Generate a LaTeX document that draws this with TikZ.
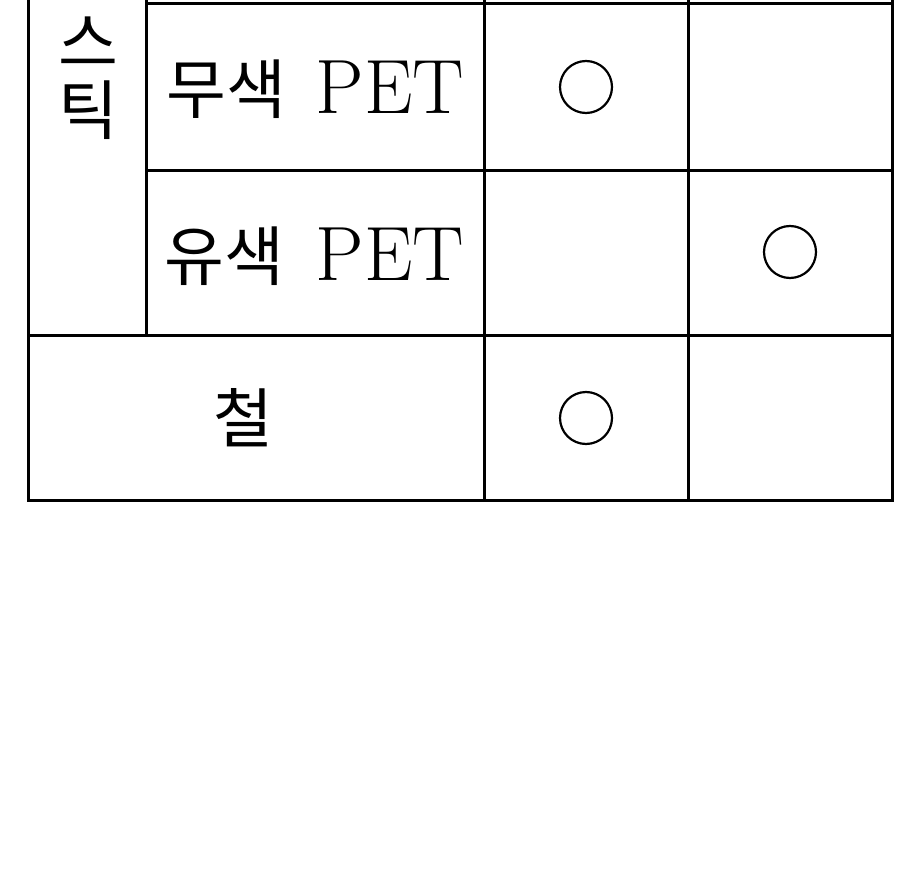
\documentclass[tikz,border=0pt]{standalone}
\usepackage{fontspec}
\newfontfamily\kr{Noto Sans CJK KR}
\begin{document}
\begin{tikzpicture}[x=1pt,y=-1pt,
  grid/.style={line width=3pt,line cap=rect},
  okmark/.style={draw,circle,line width=2.2pt,minimum size=52pt,inner sep=0pt},
  lbl/.style={inner sep=0pt,font=\fontsize{77}{77}\selectfont},
  han/.style={inner sep=0pt,font=\kr\fontsize{65}{65}\selectfont}]
\useasboundingbox (0,0) rectangle (921,888);
\clip (0,0) rectangle (921,888);
% grid coordinates
\coordinate (a0) at (28,-20);  \coordinate (a3) at (28,335); \coordinate (a4) at (28,500);
\coordinate (b0) at (146,-20); \coordinate (b1) at (146,4); \coordinate (b2) at (146,170); \coordinate (b3) at (146,335);
\coordinate (c0) at (484,-20); \coordinate (c4) at (484,500);
\coordinate (d0) at (688,-20); \coordinate (d4) at (688,500);
\coordinate (e0) at (892,-20); \coordinate (e1) at (892,4); \coordinate (e2) at (892,170); \coordinate (e3) at (892,335); \coordinate (e4) at (892,500);
% lines
\draw[grid] (a0) -- (a4) -- (e4) -- (e0);
\draw[grid] (b0) -- (b3);
\draw[grid] (c0) -- (c4);
\draw[grid] (d0) -- (d4);
\draw[grid] (b1) -- (e1);
\draw[grid] (b2) -- (e2);
\draw[grid] (a3) -- (e3);
% left column vertical text
\node[han] (k1) at (88,-99) {플};
\node[han] (k2) at (88,-31) {라};
\node[han] (k3) at (88,42) {스};
\node[han] (k4) at (88,110) {틱};
% row labels
\node[han,anchor=base west] (r1a) at (166,114) {무색};
\node[lbl,anchor=base east] (r1b) at (464,114) {PET};
\node[han,anchor=base west] (r2a) at (164,280) {유색};
\node[lbl,anchor=base east] (r2b) at (464,280) {PET};
\node[han] (r3) at (243,418) {철};
% marks
\node[okmark] (m1) at (586,87) {};
\node[okmark] (m2) at (790,252) {};
\node[okmark] (m3) at (586,418) {};
\end{tikzpicture}
\end{document}
